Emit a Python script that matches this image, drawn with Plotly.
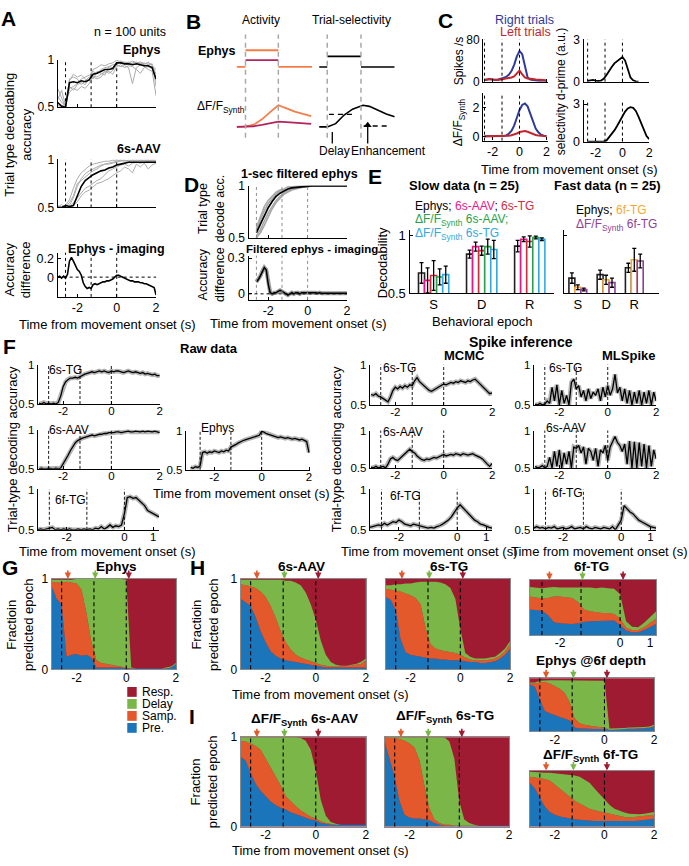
import plotly.graph_objects as go

W, H = 689, 866
FONT = "Liberation Sans, Arial, Helvetica, sans-serif"

# ---------------- time grids ----------------
T10 = [-3.0,-2.9,-2.8,-2.7,-2.6,-2.5,-2.4,-2.3,-2.2,-2.1,-2.0,-1.9,-1.8,-1.7,-1.6,-1.5,-1.4,-1.3,-1.2,-1.1,
       -1.0,-0.9,-0.8,-0.7,-0.6,-0.5,-0.4,-0.3,-0.2,-0.1,0.0,0.1,0.2,0.3,0.4,0.5,0.6,0.7,0.8,0.9,
       1.0,1.1,1.2,1.3,1.4,1.5,1.6,1.7,1.8,1.9,2.0]
T20 = [-3.0,-2.8,-2.6,-2.4,-2.2,-2.0,-1.8,-1.6,-1.4,-1.2,-1.0,-0.8,-0.6,-0.4,-0.2,0.0,0.2,0.4,0.6,0.8,
       1.0,1.2,1.4,1.6,1.8,2.0]
T10_FAST = T10[:43]
T20_FAST = T20[:22]
T20_C = T20[2:]
T10_D = T10[4:]
EPOCH_T = [-2.6, -1.3, 0.0]
ARROW_T = [-2.35, -1.25, 0.1]

# ---------------- Panel A ----------------
A_EPHYS_MEAN = [0.55,0.51,0.50,0.76,0.77,0.76,0.78,0.77,0.79,0.85,0.86,0.88,0.90,0.90,0.91,0.97,0.97,0.96,0.96,0.95,0.96,0.95,0.94,0.94,0.92,0.80]
A_EPHYS_GRAY = [
    [0.62,0.55,0.52,0.70,0.72,0.75,0.80,0.82,0.84,0.88,0.85,0.90,0.92,0.93,0.92,0.98,0.97,0.98,0.97,0.99,0.97,0.98,0.96,0.97,0.95,0.85],
    [0.58,0.68,0.52,0.80,0.82,0.80,0.74,0.78,0.82,0.80,0.88,0.86,0.84,0.93,0.95,0.96,0.99,0.97,0.95,0.97,0.98,0.96,0.97,0.95,0.96,0.72],
    [0.52,0.50,0.55,0.66,0.70,0.68,0.72,0.70,0.75,0.83,0.82,0.85,0.88,0.86,0.89,0.95,0.93,0.94,0.92,0.75,0.92,0.95,0.93,0.90,0.88,0.62],
    [0.70,0.60,0.50,0.78,0.85,0.82,0.84,0.80,0.78,0.90,0.92,0.95,0.94,0.96,0.97,1.00,0.98,0.96,0.98,0.96,0.95,0.97,0.95,0.98,0.94,0.90],
    [0.55,0.52,0.50,0.72,0.68,0.74,0.76,0.74,0.80,0.82,0.80,0.82,0.87,0.88,0.85,0.93,0.95,0.92,0.94,0.93,0.90,0.86,0.92,0.93,0.91,0.78],
]
A_AAV_MEAN = [0.50,0.50,0.52,0.51,0.52,0.62,0.72,0.78,0.81,0.84,0.86,0.88,0.89,0.91,0.92,0.94,0.95,0.96,0.97,0.97,0.97,0.97,0.97,0.97,0.97,0.97]
A_AAV_GRAY = [
    [0.5,0.5,0.52,0.58,0.70,0.80,0.86,0.90,0.93,0.95,0.96,0.97,0.98,0.98,0.99,0.99,0.99,0.98,0.99,0.99,0.98,0.99,0.99,0.98,0.99,0.99],
    [0.52,0.5,0.5,0.5,0.55,0.60,0.65,0.70,0.72,0.75,0.78,0.80,0.84,0.88,0.90,0.92,0.94,0.95,0.93,0.96,0.97,0.96,0.97,0.98,0.97,0.98],
    [0.5,0.53,0.5,0.52,0.60,0.72,0.80,0.85,0.88,0.90,0.92,0.94,0.95,0.95,0.96,0.97,0.98,0.99,0.98,0.99,0.99,0.98,0.99,0.99,0.98,0.97],
    [0.5,0.5,0.51,0.5,0.52,0.56,0.62,0.66,0.68,0.72,0.75,0.76,0.78,0.80,0.83,0.86,0.88,0.92,0.90,0.86,0.95,0.92,0.96,0.90,0.94,0.96],
    [0.51,0.5,0.5,0.55,0.62,0.75,0.78,0.82,0.85,0.88,0.90,0.93,0.95,0.96,0.97,0.98,0.99,0.99,0.98,0.97,0.99,0.99,0.98,0.99,0.99,0.98],
]
A_DIFF = [0.00,0.01,-0.01,0.01,-0.01,0.03,0.17,0.21,0.17,0.12,0.08,0.06,0.02,-0.06,-0.10,-0.12,-0.11,-0.12,-0.08,-0.07,
          -0.08,-0.07,-0.06,-0.05,-0.05,-0.04,-0.04,-0.03,-0.02,0.00,0.02,0.02,0.01,0.00,-0.01,-0.02,-0.03,-0.04,-0.04,-0.05,
          -0.05,-0.05,-0.06,-0.06,-0.07,-0.07,-0.08,-0.09,-0.10,-0.11,-0.19]

# ---------------- Panel B (schematic) ----------------
B_EPOCH = [0.0, 1.0]
B_STEP_X = [-0.27, 0.0, None, 0.0, 1.0, None, 1.0, 2.03]
B_STEP_HI = [0, 0, None, 1, 1, None, 0, 0]
B_STEP_LO_X = [0.0, 1.0]
B_STEP_LO = [0.41, 0.41]
B_SEL_X = [-0.24, 0.0, None, 0.0, 1.0, None, 1.0, 2.0]
B_SEL_EPHYS = [0, 0, None, 0.63, 0.63, None, 0, 0]
B_T = [-0.27, 0.0, 0.25, 0.5, 0.75, 1.0, 1.25, 1.5, 1.75, 2.0]
B_DFF_HI = [0, 0.01, 0.10, 0.35, 0.68, 1.0, 0.86, 0.71, 0.60, 0.50]
B_DFF_LO = [0, 0, 0.03, 0.09, 0.17, 0.24, 0.22, 0.19, 0.16, 0.14]
B_T2 = [-0.24, 0.0, 0.25, 0.5, 0.75, 1.0, 1.06, 1.25, 1.5, 1.75, 2.0]
B_SEL_DFF = [0, 0, 0.15, 0.55, 0.82, 0.98, 1.0, 0.95, 0.77, 0.60, 0.47]
B_REF1_X = [0.05, 0.85]
B_REF1 = [0.58, 0.58]
B_REF2_X = [1.08, 1.85]
B_REF2 = [0.04, 0.04]
B_ARROW_T = [0.15, 1.2]
B_ARROW_HEAD = [-0.05, 0.23]

# ---------------- Panel C ----------------
C_SPK_R = [3,4,5,4,3,4,5,7,9,13,20,32,48,58,52,30,8,4,3,3,2,2,2,2]
C_SPK_L = [3,4,5,4,3,3,4,5,5,7,8,10,15,21,14,8,6,6,5,4,4,3,3,2]
C_DP_SPK = [0.05,0.1,0.12,0.08,0.05,0.08,0.2,0.45,0.8,1.05,1.3,1.45,1.6,1.75,1.5,0.8,0.3,0.1,0.02,0.0,None,None,None,None]
C_DFF_R = [0,0,0,0,0,0,0.01,0.03,0.07,0.18,0.38,0.75,1.3,1.85,2.2,2.3,2.1,1.6,1.0,0.55,0.28,0.12,0.05,0.02]
C_DFF_L = [0,0,0,0,0,0,0,0,0.02,0.05,0.08,0.12,0.2,0.3,0.36,0.37,0.32,0.24,0.16,0.1,0.06,0.04,0.02,0.01]
C_DP_DFF = [0,0,0,0,0,0,0.02,0.08,0.35,0.6,0.9,1.25,1.65,2.05,2.4,2.65,2.75,2.7,2.45,2.0,1.45,0.9,0.45,0.2]

# ---------------- Panel D ----------------
D_MEAN = [0.55,0.63,0.72,0.79,0.85,0.90,0.93,0.95,0.97,0.98,0.985,0.99,0.995,1.0,1.0,1.0,1.0,1.0,1.0,1.0,1.0,1.0,1.0,1.0]
D_GRAY = [
    [0.52,0.58,0.66,0.74,0.80,0.86,0.90,0.93,0.95,0.97,0.98,0.99,0.99,1,1,1,1,1,1,1,1,1,1,1],
    [0.60,0.70,0.80,0.86,0.90,0.94,0.96,0.97,0.99,0.99,1,1,1,1,1,1,1,1,1,1,1,1,1,1],
    [0.50,0.55,0.62,0.70,0.78,0.84,0.88,0.92,0.94,0.96,0.97,0.98,0.99,0.99,1,1,1,1,1,1,1,1,1,1],
    [0.58,0.68,0.76,0.83,0.88,0.92,0.95,0.96,0.97,0.99,0.99,1,1,1,1,1,1,1,1,1,1,1,1,1],
]
D_DIFF = [0.10,0.12,0.15,0.19,0.22,0.20,0.08,0.01,0.00,0.01,0.01,0.02,0.03,0.02,0.01,0.00,-0.01,0.00,0.01,0.00,
          0.01,0.01,0.00,0.01,0.01,0.01,0.015,0.01,0.01,0.01,0.01,0.005,0.01,0.005,0.005,0.01,0.005,0.005,0.005,0.005,
          0.005,0.005,0.005,0.005,0.005,0.005,0.005]

# ---------------- Panel E ----------------
E_EPOCHS = ['S', 'D', 'R']
E_SLOW_COLORS = ['#231f20', '#e8168b', '#d42a3c', '#27a24a', '#2eaae1']
E_SLOW_VALS = [[0.675,0.84,0.91],[0.61,0.905,0.97],[0.653,0.87,0.95],[0.64,0.905,0.985],[0.66,0.88,0.97]]
E_SLOW_ERR = [[0.09,0.035,0.05],[0.11,0.04,0.02],[0.13,0.04,0.05],[0.07,0.065,0.012],[0.075,0.08,0.012]]
E_FAST_COLORS = ['#231f20', '#f7a833', '#8e3f97']
E_FAST_VALS = [[0.63,0.66,0.72],[0.55,0.615,0.79],[0.53,0.59,0.78]]
E_FAST_ERR = [[0.045,0.04,0.04],[0.02,0.04,0.10],[0.012,0.04,0.06]]

# ---------------- Panel F ----------------
FR_6STG = [.51,.50,.52,.50,.51,.50,.51,.50,.52,.60,.72,.78,.81,.83,.83,.84,.83,.85,.87,.88,
           .89,.90,.91,.90,.91,.92,.91,.92,.91,.90,.92,.91,.92,.92,.91,.90,.91,.92,.91,.90,
           .91,.90,.89,.90,.88,.89,.88,.87,.88,.86,.86]
FR_6SAAV = [.50,.51,.50,.50,.51,.50,.50,.51,.50,.51,.56,.62,.67,.73,.78,.83,.86,.88,.89,.90,
            .91,.92,.93,.92,.93,.94,.94,.95,.95,.96,.96,.96,.97,.97,.96,.97,.97,.98,.97,.97,
            .98,.97,.97,.98,.97,.98,.97,.97,.98,.97,.96]
FR_6FTG = [.50,.51,.50,.51,.52,.53,.50,.51,.50,.51,.50,.51,.50,.50,.51,.50,.51,.50,.51,.50,
           .52,.51,.54,.51,.53,.56,.53,.55,.54,.56,.70,.90,.91,.89,.90,.87,.84,.80,.74,.72,
           .71,.68,.66]
FR_EPHYS = [.53,.52,.54,.53,.55,.72,.73,.71,.73,.72,.74,.73,.72,.74,.73,.75,.74,.79,.80,.82,
            .84,.86,.87,.88,.89,.90,.91,.92,.93,.94,.99,.98,.96,.95,.94,.93,.92,.91,.92,.91,
            .90,.91,.90,.89,.90,.89,.88,.89,.87,.86,.72]
MCMC_6STG = [.63,.62,.64,.61,.60,.58,.55,.54,.60,.68,.72,.70,.73,.71,.74,.72,.75,.74,.80,.84,
             .79,.76,.73,.70,.68,.67,.69,.71,.72,.74,.76,.75,.77,.78,.77,.79,.78,.80,.79,.78,
             .80,.79,.81,.82,.79,.76,.73,.70,.67,.64,.65]
MCMC_6SAAV = [.51,.50,.52,.50,.51,.52,.50,.55,.62,.64,.61,.60,.63,.66,.68,.72,.75,.72,.70,.66,
              .63,.61,.60,.62,.61,.63,.64,.63,.65,.66,.68,.66,.67,.68,.67,.69,.68,.67,.69,.68,
              .67,.68,.69,.67,.66,.64,.62,.58,.55,.52,.56]
MCMC_6FTG = [.53,.54,.55,.56,.55,.58,.56,.58,.60,.59,.62,.60,.57,.56,.55,.57,.56,.55,.54,.53,
             .52,.53,.52,.54,.55,.57,.59,.62,.66,.72,.77,.81,.77,.73,.70,.66,.62,.60,.57,.56,
             .54,.53,.52]
MLS_6STG = [.51,.50,.52,.50,.51,.55,.52,.72,.55,.75,.50,.68,.52,.62,.50,.78,.82,.70,.74,.60,
            .68,.55,.70,.58,.66,.62,.70,.55,.72,.60,.74,.62,.70,.88,.65,.72,.55,.70,.52,.68,
            .50,.66,.52,.68,.50,.66,.52,.68,.50,.66,.55]
MLS_6SAAV = [.52,.50,.51,.53,.50,.52,.64,.50,.72,.52,.74,.50,.70,.55,.72,.50,.78,.76,.80,.70,
             .78,.55,.76,.72,.60,.76,.52,.74,.70,.80,.60,.78,.85,.92,.84,.80,.72,.82,.55,.86,
             .50,.85,.50,.84,.52,.82,.50,.80,.52,.74,.62]
MLS_6FTG = [.52,.54,.52,.53,.51,.53,.52,.54,.51,.52,.53,.51,.52,.54,.51,.52,.53,.51,.54,.52,
            .51,.53,.52,.51,.53,.52,.51,.54,.50,.56,.62,.80,.76,.72,.70,.66,.62,.60,.58,.55,
            .54,.53,.52]

# ---------------- Panels G-I (stacked epoch predictions: cumulative tops of Pre, Samp, Delay) ----------------
G_EPHYS = ([.92,.78,.72,.14,.16,.17,.15,.16,.13,.02,.02,.02,.02,.02,.02,.01,.01,.01,.01,.01,.01,.01,.01,.01,.02,.06],
           [.97,.96,.96,.97,.96,.95,.88,.62,.30,.10,.07,.06,.05,.04,.03,.02,.01,.01,.01,.01,.01,.01,.01,.01,.02,.06],
           [.99,.99,.99,.99,.99,1.0,1.0,1.0,1.0,1.0,1.0,1.0,1.0,1.0,1.0,.99,.02,.01,.01,.01,.01,.01,.01,.02,.03,.07])
H_6SAAV = ([.78,.74,.70,.58,.42,.30,.20,.15,.12,.10,.09,.08,.07,.06,.05,.04,.03,.02,.02,.02,.02,.02,.02,.02,.02,.02],
           [.94,.93,.92,.90,.86,.80,.70,.57,.42,.30,.22,.16,.13,.11,.09,.07,.05,.04,.03,.03,.03,.04,.04,.05,.06,.10],
           [.99,.99,.99,.99,.99,.99,.99,.99,.99,.98,.98,.96,.93,.85,.72,.55,.32,.16,.08,.05,.04,.04,.05,.06,.08,.12])
H_6STG = ([.80,.77,.66,.33,.19,.16,.15,.14,.13,.12,.12,.11,.11,.10,.10,.10,.09,.08,.08,.07,.07,.08,.09,.12,.16,.23],
          [.89,.88,.87,.86,.84,.82,.79,.72,.46,.28,.23,.21,.20,.19,.18,.16,.13,.11,.10,.10,.10,.11,.12,.15,.20,.28],
          [.93,.93,.94,.94,.95,.95,.96,.97,.97,.97,.97,.96,.94,.90,.78,.45,.18,.14,.12,.12,.12,.13,.14,.18,.23,.31])
H_6FTG = ([.46,.45,.44,.36,.23,.21,.20,.20,.21,.24,.25,.25,.26,.25,.26,.18,.08,.05,.05,.09,.14,.20],
          [.70,.68,.66,.67,.70,.70,.68,.67,.60,.46,.43,.41,.40,.40,.38,.30,.13,.09,.09,.14,.22,.30],
          [.87,.86,.85,.86,.87,.86,.86,.87,.86,.87,.86,.85,.86,.85,.84,.74,.25,.15,.14,.22,.32,.43])
H_EPHYS6F = ([.88,.84,.60,.38,.34,.30,.27,.24,.20,.07,.05,.05,.04,.04,.04,.04,.03,.03,.03,.04,.04,.04,.05,.05,.06,.09],
             [.90,.90,.92,.93,.90,.85,.80,.72,.55,.24,.15,.12,.10,.09,.08,.07,.03,.03,.04,.04,.05,.05,.06,.06,.07,.10],
             [.92,.92,.95,.96,.96,.96,.96,.96,.96,.96,.96,.96,.96,.96,.96,.95,.05,.05,.06,.06,.07,.07,.08,.08,.09,.12])
I_6SAAV = ([.78,.74,.60,.48,.40,.34,.28,.24,.21,.19,.16,.14,.12,.10,.08,.07,.04,.03,.02,.02,.02,.02,.02,.02,.02,.02],
           [.96,.95,.93,.90,.86,.76,.66,.57,.46,.34,.28,.23,.18,.14,.11,.09,.06,.04,.03,.02,.02,.02,.02,.02,.02,.02],
           [1.0,1.0,1.0,1.0,1.0,1.0,1.0,1.0,1.0,1.0,1.0,1.0,.99,.96,.86,.63,.30,.12,.05,.03,.02,.02,.02,.02,.02,.02])
I_6STG = ([.95,.75,.55,.28,.13,.10,.09,.09,.08,.07,.04,.02,.01,.01,.01,.01,.01,.01,.01,.01,.01,.01,.01,.01,.01,.01],
          [1.0,.99,.99,.98,.96,.93,.88,.74,.45,.20,.08,.04,.02,.02,.01,.01,.01,.01,.01,.01,.01,.01,.01,.01,.01,.01],
          [1.0,1.0,1.0,1.0,1.0,1.0,1.0,1.0,1.0,1.0,1.0,1.0,1.0,.95,.76,.28,.08,.04,.02,.01,.01,.01,.01,.01,.01,.01])
I_6FTG = ([.78,.68,.52,.36,.26,.21,.18,.16,.14,.13,.12,.11,.11,.10,.10,.10,.09,.09,.09,.10,.10,.10,.11,.12,.13,.14],
          [.89,.88,.87,.85,.82,.75,.68,.60,.53,.46,.41,.36,.32,.29,.27,.25,.22,.20,.18,.17,.16,.17,.18,.19,.20,.21],
          [.98,.97,.97,.96,.96,.95,.95,.94,.93,.91,.89,.84,.78,.68,.58,.48,.39,.32,.28,.25,.23,.22,.22,.23,.24,.26])
EPOCH_NAMES = ['Resp.', 'Delay', 'Samp.', 'Pre.']
STACK_COLORS = ['#1b75bb', '#e3592b', '#7ab648']   # Pre, Samp, Delay
RESP_COLOR = '#9e1b32'
ARROW_COLORS = ['#e3592b', '#7ab648', '#9e1b32']

# =====================================================================
fig = go.Figure()
layout = {}
shapes = []
annotations = []
_n = [0]


def fmt(v):
    return ('%g' % v)


def axes(px, py, xr, yr, xt=None, yt=None, xlab=True, ylab=True, xline=True, yline=True,
         visible=True, frame=False, xcat=False, xticks='inside', tickfont=12, xstandoff=-1):
    _n[0] += 1
    n = _n[0]
    s = '' if n == 1 else str(n)
    xa, ya = 'x' + s, 'y' + s
    lc = '#8a8a8a' if frame else 'black'
    base = dict(showgrid=False, zeroline=False, linecolor=lc, linewidth=1.1 if frame else 1.3,
                tickcolor='black', ticklen=3, tickwidth=1,
                tickfont=dict(size=tickfont, family=FONT, color='black'), fixedrange=True)
    xd = dict(base, domain=[px[0] / W, px[1] / W], range=xr, anchor=ya, showline=xline,
              visible=visible, ticks='' if frame else xticks, mirror=frame, showticklabels=xlab,
              ticklabelstandoff=xstandoff)
    if xcat:
        xd['type'] = 'category'
    elif xt is not None:
        xd.update(tickmode='array', tickvals=xt, ticktext=[fmt(v) for v in xt])
    yd = dict(base, domain=[1 - py[1] / H, 1 - py[0] / H], range=yr, anchor=xa, showline=yline,
              visible=visible, ticks='' if frame else 'inside', mirror=frame, showticklabels=ylab)
    if yt is not None:
        yd.update(tickmode='array', tickvals=yt, ticktext=[fmt(v) for v in yt])
    else:
        yd.update(tickmode='array', tickvals=[], ticktext=[])
    layout['xaxis' + s] = xd
    layout['yaxis' + s] = yd
    return xa, ya


def line(ax, x, y, color='black', width=1.5, dash=None):
    fig.add_trace(go.Scatter(x=x, y=y, xaxis=ax[0], yaxis=ax[1], mode='lines',
                             line=dict(color=color, width=width, dash=dash),
                             showlegend=False, hoverinfo='skip', connectgaps=False))


def vlines(ax, times, color='black', width=1, dash='3px,3px'):
    for t in times:
        shapes.append(dict(type='line', xref=ax[0], yref=ax[1] + ' domain', x0=t, x1=t, y0=0, y1=1,
                           line=dict(color=color, width=width, dash=dash)))


def hline0(ax, color='black'):
    shapes.append(dict(type='line', xref=ax[0] + ' domain', yref=ax[1], x0=0, x1=1, y0=0, y1=0,
                       line=dict(color=color, width=1, dash='3px,3px')))


def txt(x, y, s, size=13, bold=False, color='black', angle=0, xanchor='center'):
    if bold:
        s = '<b>' + s + '</b>'
    annotations.append(dict(x=x / W, y=1 - y / H, xref='paper', yref='paper', text=s, showarrow=False,
                            font=dict(size=size, color=color, family=FONT), textangle=angle,
                            xanchor=xanchor, yanchor='middle'))


def banded(ax, x, y):
    line(ax, x, y, color='#b4b4b4', width=4.5)
    line(ax, x, y, color='black', width=1.3)


def stack(ax, t, bounds):
    shapes.append(dict(type='rect', xref=ax[0] + ' domain', yref=ax[1] + ' domain', x0=0, x1=1, y0=0, y1=1,
                       fillcolor=RESP_COLOR, line=dict(width=0), layer='below'))
    for i, (b, c) in enumerate(zip(bounds, STACK_COLORS)):
        fig.add_trace(go.Scatter(x=t, y=b, xaxis=ax[0], yaxis=ax[1], mode='lines',
                                 line=dict(width=0, color=c), fill='tozeroy' if i == 0 else 'tonexty',
                                 fillcolor=c, showlegend=False, hoverinfo='skip'))
    vlines(ax, EPOCH_T, color='black', width=1.1, dash='4px,3px')
    # small downward arrows above the panel marking the epoch boundaries
    for tt, c in zip(ARROW_T, ARROW_COLORS):
        annotations.append(dict(x=tt, y=1.0, xref=ax[0], yref=ax[1] + ' domain', text='', showarrow=True,
                                ax=0, ay=-10, arrowhead=2, arrowsize=0.8, arrowwidth=1.6, arrowcolor=c,
                                standoff=0))


XT = [-2, 0, 2]
XT_F = [-2, 0, 1]
Y01 = [0.5, 1]

# ---------------- Panel A ----------------
a1 = axes((58, 157), (54, 102), [-3, 2], [0.5, 1], xt=XT, yt=Y01, xlab=False)
for g in A_EPHYS_GRAY:
    line(a1, T20, g, color='#ababab', width=1)
line(a1, T20, A_EPHYS_MEAN, width=1.6)
vlines(a1, EPOCH_T)
a2 = axes((58, 157), (155, 204), [-3, 2], [0.5, 1], xt=XT, yt=Y01, xlab=False)
for g in A_AAV_GRAY:
    line(a2, T20, g, color='#ababab', width=1)
line(a2, T20, A_AAV_MEAN, width=1.6)
vlines(a2, EPOCH_T)
a3 = axes((58, 157), (250, 295), [-3, 2], [-0.21, 0.26], xt=XT, yt=[0, 0.2], tickfont=12.5)
line(a3, T10, A_DIFF, width=1.6)
vlines(a3, EPOCH_T)
hline0(a3)

# ---------------- Panel B ----------------
b1 = axes((238, 314), (40.6, 64.4), [-0.27, 2.03], [-0.2, 1.2], visible=False)
b2 = axes((238, 314), (96.7, 125.3), [-0.27, 2.03], [-0.15, 1.15], visible=False)
b3 = axes((321, 397), (40.6, 64.4), [-0.24, 2.0], [-0.2, 1.2], visible=False)
b4 = axes((321, 397), (96.7, 125.3), [-0.24, 2.0], [-0.15, 1.15], visible=False)
for bx in (b1, b3):
    for t in B_EPOCH:
        shapes.append(dict(type='line', xref=bx[0], yref='paper', x0=t, x1=t, y0=1 - 133 / H, y1=1 - 28 / H,
                           line=dict(color='#a8a8a8', width=1.5, dash='5px,4px')))
ORANGE_B = '#f47d4a'
PURPLE_B = '#b3245c'
line(b1, B_STEP_X, B_STEP_HI, color=ORANGE_B, width=1.8)
line(b1, B_STEP_LO_X, B_STEP_LO, color=PURPLE_B, width=1.8)
line(b2, B_T, B_DFF_HI, color=ORANGE_B, width=1.8)
line(b2, B_T, B_DFF_LO, color=PURPLE_B, width=1.8)
line(b3, B_SEL_X, B_SEL_EPHYS, color='black', width=1.6)
line(b4, B_T2, B_SEL_DFF, color='black', width=1.6)
line(b4, B_REF1_X, B_REF1, color='black', width=1.4, dash='5px,4px')
line(b4, B_REF2_X, B_REF2, color='black', width=1.4, dash='5px,4px')
B4_PX_PER_UNIT = 22.0
for t, hy in zip(B_ARROW_T, B_ARROW_HEAD):
    head_px = 122 - hy * B4_PX_PER_UNIT
    shapes.append(dict(type='line', xref=b4[0], yref='paper', x0=t, x1=t, y0=1 - 139 / H, y1=1 - (head_px + 4) / H,
                       line=dict(color='black', width=1.3)))
fig.add_trace(go.Scatter(x=B_ARROW_T, y=[hy - 3.5 / B4_PX_PER_UNIT for hy in B_ARROW_HEAD],
                         xaxis=b4[0], yaxis=b4[1], mode='markers',
                         marker=dict(symbol='triangle-up', size=7, color='black'),
                         cliponaxis=False, showlegend=False, hoverinfo='skip'))

# ---------------- Panel C ----------------
BLUE_C = '#2f3a96'
RED_C = '#c4262e'
c1 = axes((486, 551), (33, 76), [-2.7, 2.1], [0, 80], xt=XT, yt=[0, 80], xlab=False)
line(c1, T20_C, C_SPK_R, color=BLUE_C, width=2)
line(c1, T20_C, C_SPK_L, color=RED_C, width=2)
vlines(c1, EPOCH_T)
c2 = axes((587, 653), (33, 76), [-2.9, 2.0], [0, 3], xt=XT, yt=[0, 3], xlab=False)
line(c2, T20_C, C_DP_SPK, width=1.8)
vlines(c2, EPOCH_T)
c3 = axes((486, 551), (88, 136), [-2.7, 2.1], [-0.3, 3.0], xt=XT, yt=[0, 2], tickfont=12.5)
line(c3, T20_C, C_DFF_R, color=BLUE_C, width=2)
line(c3, T20_C, C_DFF_L, color=RED_C, width=2)
vlines(c3, EPOCH_T)
c4 = axes((587, 653), (95, 137), [-2.9, 2.0], [0, 3.3], xt=XT, yt=[0, 3], tickfont=12.5)
line(c4, T20_C, C_DP_DFF, width=1.8)
vlines(c4, EPOCH_T)

# ---------------- Panel D ----------------
d1 = axes((250, 349), (182, 235), [-3, 2], [0.5, 1], xt=XT, yt=Y01, xlab=False)
for g in D_GRAY:
    line(d1, T20_C, g, color='#a8a8a8', width=1.6)
line(d1, T20_C, D_MEAN, width=1.7)
vlines(d1, EPOCH_T, color='#8c8c8c')
d2 = axes((250, 349), (253, 298), [-3, 2], [-0.05, 0.32], xt=XT, yt=[0, 0.3], tickfont=12.5)
line(d2, T10_D, D_DIFF, color='#9a9a9a', width=4)
line(d2, T10_D, D_DIFF, width=1.5)
vlines(d2, EPOCH_T, color='#8c8c8c')
hline0(d2)

# ---------------- Panel E ----------------
e1 = axes((412, 557), (227, 291), [-0.5, 2.5], [0.5, 1.05], yt=Y01, xcat=True, xticks='', tickfont=13)
for vals, errs, c in zip(E_SLOW_VALS, E_SLOW_ERR, E_SLOW_COLORS):
    fig.add_trace(go.Bar(x=E_EPOCHS, y=vals, xaxis=e1[0], yaxis=e1[1],
                         marker=dict(color='white', line=dict(color=c, width=1.6)),
                         error_y=dict(type='data', array=errs, color='black', thickness=1.3, width=2),
                         showlegend=False, hoverinfo='skip'))
e2 = axes((567, 663), (227, 291), [-0.5, 2.88], [0.5, 1.05], yt=Y01, ylab=False, xcat=True, xticks='', tickfont=13)
for vals, errs, c in zip(E_FAST_VALS, E_FAST_ERR, E_FAST_COLORS):
    fig.add_trace(go.Bar(x=E_EPOCHS, y=vals, xaxis=e2[0], yaxis=e2[1],
                         marker=dict(color='white', line=dict(color=c, width=1.6)),
                         error_y=dict(type='data', array=errs, color='black', thickness=1.3, width=2),
                         showlegend=False, hoverinfo='skip'))

# ---------------- Panel F ----------------
f_specs = [
    ((38, 161), (364, 404), [-3.05, 2.02], T10, FR_6STG, XT),
    ((38, 161), (430, 470), [-3.05, 2.02], T10, FR_6SAAV, XT),
    ((38, 160), (491, 532), [-3.0, 1.2], T10_FAST, FR_6FTG, XT_F),
    ((187, 312), (431, 471), [-3.2, 2.05], T10, FR_EPHYS, XT),
    ((372, 495), (364, 405), [-3.05, 2.0], T10, MCMC_6STG, XT),
    ((372, 495), (431, 469), [-3.05, 2.0], T10, MCMC_6SAAV, XT),
    ((372, 495), (491, 532), [-3.0, 1.2], T10_FAST, MCMC_6FTG, XT_F),
    ((537, 660), (364, 405), [-3.05, 2.0], T10, MLS_6STG, XT),
    ((537, 660), (431, 469), [-3.05, 2.0], T10, MLS_6SAAV, XT),
    ((537, 660), (491, 532), [-3.0, 1.2], T10_FAST, MLS_6FTG, XT_F),
]
for px, py, xr, t, y, xt in f_specs:
    fa = axes(px, py, xr, [0.5, 1], xt=xt, yt=Y01, tickfont=11.5, xstandoff=-4)
    vlines(fa, EPOCH_T, width=0.9, dash='3px,2px')
    banded(fa, t, y)

# ---------------- Panels G, H, I ----------------
stack_specs = [
    ((52, 177), (582, 674), [-3, 2], T20, G_EPHYS, XT, True),
    ((242, 368), (582, 674), [-3, 2], T20, H_6SAAV, XT, True),
    ((388, 513), (582, 674), [-3, 2], T20, H_6STG, XT, False),
    ((533, 660), (583, 639), [-3, 1.2], T20_FAST, H_6FTG, XT_F, False),
    ((533, 658), (683, 737), [-3, 2], T20, H_EPHYS6F, XT, False),
    ((242, 368), (743, 834), [-3, 2], T20, I_6SAAV, XT, True),
    ((387, 512), (743, 834), [-3, 2], T20, I_6STG, XT, False),
    ((533, 658), (777, 834), [-3, 2], T20, I_6FTG, XT, False),
]
for px, py, xr, t, bounds, xt, ylab in stack_specs:
    sa = axes(px, py, xr, [0, 1], xt=xt, yt=[0, 1], ylab=ylab, frame=True, tickfont=12, xstandoff=-3)
    stack(sa, t, bounds)

# legend of G (epoch colours)
for i, (name, c) in enumerate(zip(EPOCH_NAMES, [RESP_COLOR] + STACK_COLORS[::-1])):
    yc = 697 + i * 12.2
    shapes.append(dict(type='rect', xref='paper', yref='paper', x0=128 / W, x1=137.5 / W,
                       y0=1 - (yc + 5) / H, y1=1 - (yc - 5) / H, fillcolor=c, line=dict(width=0)))
    txt(141, yc, name, size=12, xanchor='left')

# ---------------- text ----------------
SYN = 'ΔF/F<sub>Synth</sub>'
for L, x, y in [('A', 9, 12), ('B', 195, 15), ('C', 448, 14), ('D', 193, 181), ('E', 377, 172),
                ('F', 10, 345), ('G', 10, 570), ('H', 199, 570), ('I', 193, 722)]:
    txt(x, y, L, size=21, bold=True)

# A
txt(131, 25, 'n = 100 units', 12.5)
txt(143, 44, 'Ephys', 12.5, bold=True)
txt(140, 145, '6s-AAV', 12.5, bold=True)
txt(117, 246, 'Ephys - imaging', 12.5, bold=True)
txt(18, 130, 'Trial type decodabing<br>accuracy', 13, angle=-90)
txt(18, 267, 'Accuracy<br>difference', 13, angle=-90)
txt(108, 323, 'Time from movement onset (s)', 13)
# B
txt(263, 13, 'Activity', 12)
txt(354, 13, 'Trial-selectivity', 12)
txt(218, 45, 'Ephys', 12.5, bold=True)
txt(222, 102, SYN, 12)
txt(336, 147, 'Delay', 12)
txt(391, 147, 'Enhancement', 12)
# C
txt(528, 13, 'Right trials', 12.5, color=BLUE_C)
txt(529, 25, 'Left trials', 12.5, color=RED_C)
txt(462, 55, 'Spikes /s', 12, angle=-90)
txt(462, 117, SYN, 12, angle=-90)
txt(564, 86, 'selectivity d-prime (a.u.)', 12, angle=-90)
txt(573, 165, 'Time from movement onset (s)', 13)
# D
txt(301, 170, '1-sec filtered ephys', 12.5, bold=True)
txt(314, 246, 'Filtered ephys - imaging', 11.5, bold=True)
txt(213, 205, 'Trial type<br>decode acc.', 12.5, angle=-90)
txt(213, 272, 'Accuracy<br>difference', 12.5, angle=-90)
txt(300, 322, 'Time from movement onset (s)', 13)
# E
txt(467, 182, 'Slow data (n = 25)', 13, bold=True)
txt(611, 182, 'Fast data (n = 25)', 13, bold=True)
txt(415, 202, "Ephys; <span style='color:#e8168b'>6s-AAV</span>; <span style='color:#d42a3c'>6s-TG</span>", 12, xanchor='left')
txt(415, 216.5, "<span style='color:#27a24a'>ΔF/F<sub>Synth</sub> 6s-AAV;</span>", 12, xanchor='left')
txt(415, 231, "<span style='color:#2eaae1'>ΔF/F<sub>Synth</sub> 6s-TG</span>", 12, xanchor='left')
txt(577, 207, "Ephys; <span style='color:#f7a833'>6f-TG</span>", 12, xanchor='left')
txt(577, 222, "<span style='color:#8e3f97'>ΔF/F<sub>Synth</sub> 6f-TG</span>", 12, xanchor='left')
txt(385, 260, 'Decodability', 13, angle=-90)
txt(485, 320, 'Behavioral epoch', 13)
# F
txt(210, 348, 'Raw data', 13, bold=True)
txt(524, 341, 'Spike inference', 14, bold=True)
txt(467, 355, 'MCMC', 13, bold=True)
txt(632, 355, 'MLSpike', 13, bold=True)
for s, x, y in [('6s-TG', 47, 369), ('6s-AAV', 47, 430), ('6f-TG', 53, 502), ('Ephys', 200, 428),
                ('6s-TG', 383, 367), ('6s-AAV', 383, 432), ('6f-TG', 390, 498),
                ('6s-TG', 550, 367), ('6s-AAV', 547, 428), ('6f-TG', 553, 495)]:
    txt(x, y, s, 12, xanchor='left')
txt(12, 450, 'Trial-type decoding accuracy', 13, angle=-90)
txt(338, 450, 'Trial-type decoding accuracy', 13, angle=-90)
txt(108, 554, 'Time from movement onset (s)', 13)
txt(243, 495, 'Time from movement onset (s)', 13)
txt(432, 554, 'Time from movement onset (s)', 13)
txt(603, 554, 'Time from movement onset (s)', 13)
# G / H / I
txt(117, 569, 'Ephys', 13.5, bold=True)
txt(303, 569, '6s-AAV', 13.5, bold=True)
txt(452, 569, '6s-TG', 13.5, bold=True)
txt(595, 569, '6f-TG', 13.5, bold=True)
txt(594, 665, 'Ephys @6f depth', 13.5, bold=True)
txt(306, 725, SYN + ' 6s-AAV', 13.5, bold=True)
txt(448, 722, SYN + ' 6s-TG', 13.5, bold=True)
txt(594, 762, SYN + ' 6f-TG', 13.5, bold=True)
txt(20, 628, 'Fractioin<br>predicted epoch', 13, angle=-90)
txt(206, 628, 'Fractioin<br>predicted epoch', 13, angle=-90)
txt(206, 788, 'Fraction<br>predicted epoch', 13, angle=-90)
txt(322, 700, 'Time from movement onset (s)', 13)
txt(322, 858, 'Time from movement onset (s)', 13)

layout.update(dict(width=W, height=H, margin=dict(l=0, r=0, t=0, b=0), autosize=False,
                   paper_bgcolor='white', plot_bgcolor='rgba(0,0,0,0)', showlegend=False,
                   font=dict(family=FONT, size=12, color='black'),
                   barmode='group', bargap=0.37, bargroupgap=0,
                   shapes=shapes, annotations=annotations))
fig.update_layout(**layout)
fig.write_html("out.html", config={'displayModeBar': False},
               post_script="document.body.style.margin='0px';document.body.style.overflow='hidden';")
